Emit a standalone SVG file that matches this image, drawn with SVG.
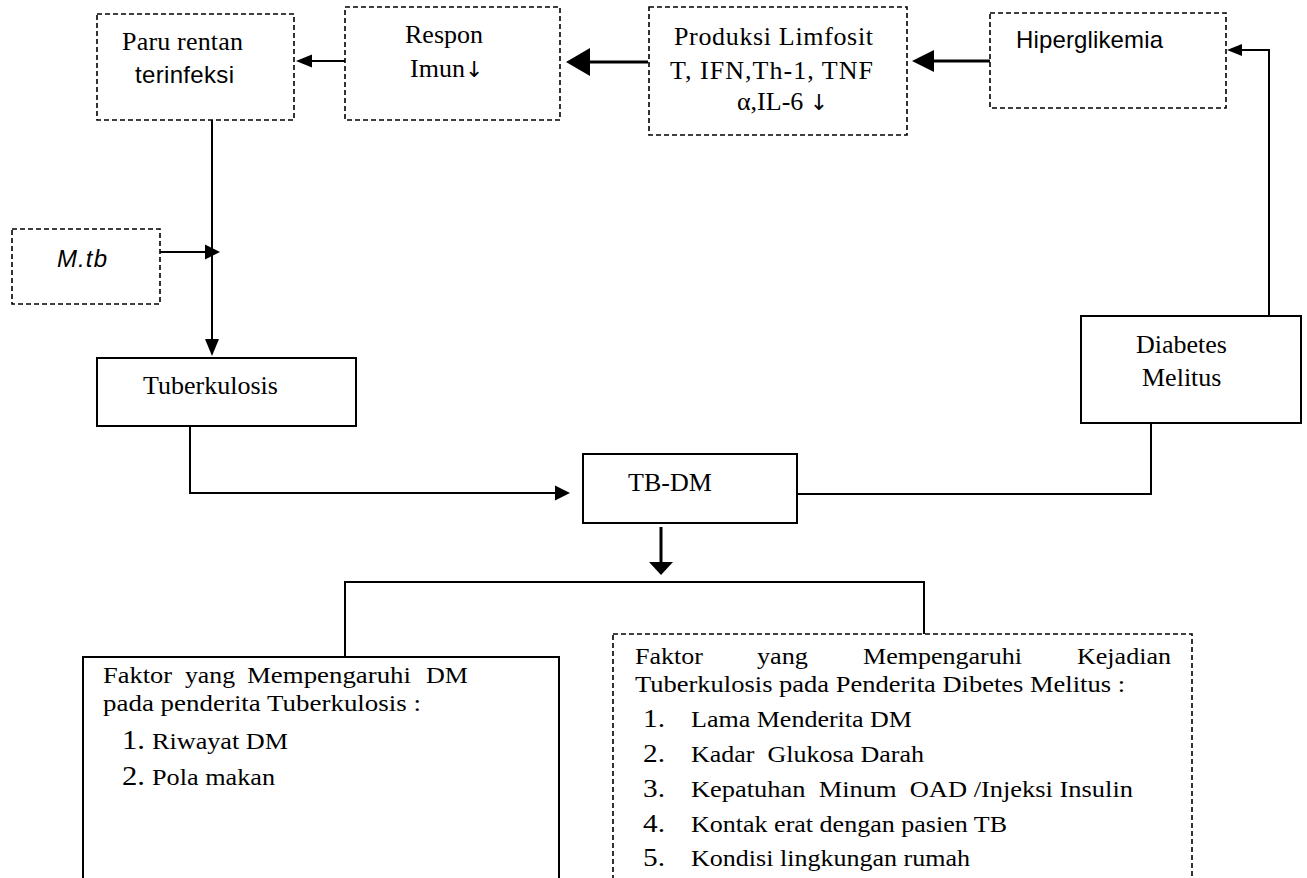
<svg xmlns="http://www.w3.org/2000/svg" width="1307" height="878" viewBox="0 0 1307 878">
<style>
.bg{fill:#fff}
.solid{fill:#fff;stroke:#000;stroke-width:2}
.dash{fill:#fff;stroke:#000;stroke-width:1.6;stroke-dasharray:5 3}
.ln{fill:none;stroke:#000;stroke-width:2}
.lnb{fill:none;stroke:#000;stroke-width:3}
.hd{fill:#000;stroke:none}
.t{font-family:"Liberation Serif","Times New Roman",serif;font-size:26px;fill:#000}
.s{font-family:"Liberation Sans",Arial,sans-serif;font-size:24px;fill:#000}
.l{font-family:"Liberation Serif","Times New Roman",serif;font-size:24px;fill:#000}
.r{font-family:"Liberation Serif","Times New Roman",serif;font-size:23px;fill:#000}
.nl{font-family:"Liberation Serif","Times New Roman",serif;font-size:27px;fill:#000}
.nr{font-family:"Liberation Serif","Times New Roman",serif;font-size:26px;fill:#000}
.ar{font-family:"DejaVu Sans",sans-serif;font-size:22px;fill:#000}
</style>
<rect class="bg" x="0" y="0" width="1307" height="878"/>

<g id="connectors">
  <line class="ln" x1="348" y1="61" x2="306" y2="61"/>
  <polygon class="hd" points="296,61 312,54.5 312,67.5"/>
  <line class="lnb" x1="648" y1="62" x2="580" y2="62"/>
  <polygon class="hd" points="566,62 590,48 590,76"/>
  <line class="lnb" x1="990" y1="61" x2="925" y2="61"/>
  <polygon class="hd" points="912,61 934,50 934,72"/>
  <polyline class="ln" points="1269,316 1269,50 1235,50"/>
  <polygon class="hd" points="1227,50 1242,44 1242,56"/>
  <line class="ln" x1="212" y1="120" x2="212" y2="342"/>
  <polygon class="hd" points="212,356 205,339 219,339"/>
  <line class="ln" x1="160" y1="252" x2="208" y2="252"/>
  <polygon class="hd" points="220,252 205,244.5 205,259.5"/>
  <polyline class="ln" points="190,426 190,493 560,493"/>
  <polygon class="hd" points="570,493 555,485.5 555,500.5"/>
  <polyline class="ln" points="1151,423 1151,494 774,494"/>
  <polygon class="hd" points="764,494 780,486 780,502"/>
  <line class="lnb" x1="661" y1="527" x2="661" y2="565"/>
  <polygon class="hd" points="661,575 649,562 673,562"/>
  <polyline class="ln" points="345,657 345,582 924,582 924,634"/>
</g>

<g id="paru">
  <rect class="dash" x="97" y="14" width="197" height="106"/>
  <text class="t" x="122" y="50" textLength="121">Paru rentan</text>
  <text class="s" x="135" y="83" textLength="99">terinfeksi</text>
</g>

<g id="respon">
  <rect class="dash" x="345" y="7" width="215" height="113"/>
  <text class="t" x="405" y="43">Respon</text>
  <text class="t" x="410" y="77">Imun<tspan class="ar">↓</tspan></text>
</g>

<g id="produksi">
  <rect class="dash" x="649" y="7" width="258" height="128"/>
  <text class="t" x="674" y="45" textLength="199">Produksi Limfosit</text>
  <text class="t" x="670" y="79" textLength="203">T, IFN,Th-1, TNF</text>
  <text class="t" x="737" y="110">α,IL-6 <tspan class="ar">↓</tspan></text>
</g>

<g id="hiperglikemia">
  <rect class="dash" x="990" y="13" width="236" height="95"/>
  <text class="s" x="1016" y="48" textLength="147">Hiperglikemia</text>
</g>

<g id="mtb">
  <rect class="dash" x="12" y="229" width="148" height="75"/>
  <text class="s" x="57" y="267" font-style="italic" textLength="50">M.tb</text>
</g>

<g id="tuberkulosis">
  <rect class="solid" x="97" y="358" width="259" height="68"/>
  <text class="t" x="143" y="394">Tuberkulosis</text>
</g>

<g id="diabetes">
  <rect class="solid" x="1081" y="316" width="220" height="107"/>
  <text class="t" x="1136" y="353">Diabetes</text>
  <text class="t" x="1142" y="386">Melitus</text>
</g>

<g id="tbdm">
  <rect class="solid" x="583" y="454" width="214" height="69"/>
  <text class="t" x="628" y="491">TB-DM</text>
</g>

<g id="faktor-dm">
  <rect class="solid" x="83" y="657" width="476" height="240"/>
  <text class="l" y="683" lengthAdjust="spacingAndGlyphs"><tspan x="103" textLength="69" lengthAdjust="spacingAndGlyphs">Faktor</tspan><tspan x="185" textLength="50" lengthAdjust="spacingAndGlyphs">yang</tspan><tspan x="247" textLength="164" lengthAdjust="spacingAndGlyphs">Mempengaruhi</tspan><tspan x="426" textLength="42" lengthAdjust="spacingAndGlyphs">DM</tspan></text>
  <text class="l" x="103" y="711" textLength="318" lengthAdjust="spacingAndGlyphs">pada penderita Tuberkulosis :</text>
  <text class="nl" x="122" y="749" textLength="23" lengthAdjust="spacingAndGlyphs">1.</text>
  <text class="l" x="152" y="749" textLength="136" lengthAdjust="spacingAndGlyphs">Riwayat DM</text>
  <text class="nl" x="122" y="785" textLength="23" lengthAdjust="spacingAndGlyphs">2.</text>
  <text class="l" x="152" y="785" textLength="123" lengthAdjust="spacingAndGlyphs">Pola makan</text>
</g>

<g id="faktor-tb">
  <rect class="dash" x="613" y="634" width="579" height="260"/>
  <text class="r" y="664"><tspan x="635" textLength="68" lengthAdjust="spacingAndGlyphs">Faktor</tspan><tspan x="757" textLength="51" lengthAdjust="spacingAndGlyphs">yang</tspan><tspan x="863" textLength="159" lengthAdjust="spacingAndGlyphs">Mempengaruhi</tspan><tspan x="1077" textLength="94" lengthAdjust="spacingAndGlyphs">Kejadian</tspan></text>
  <text class="r" x="635" y="692" textLength="490" lengthAdjust="spacingAndGlyphs">Tuberkulosis pada Penderita Dibetes Melitus :</text>
  <text class="nr" x="643" y="727" textLength="22" lengthAdjust="spacingAndGlyphs">1.</text>
  <text class="r" x="691" y="727" textLength="221" lengthAdjust="spacingAndGlyphs">Lama Menderita DM</text>
  <text class="nr" x="643" y="762" textLength="22" lengthAdjust="spacingAndGlyphs">2.</text>
  <text class="r" x="691" y="762" textLength="233" lengthAdjust="spacingAndGlyphs" xml:space="preserve">Kadar  Glukosa Darah</text>
  <text class="nr" x="643" y="797" textLength="22" lengthAdjust="spacingAndGlyphs">3.</text>
  <text class="r" x="691" y="797" textLength="442" lengthAdjust="spacingAndGlyphs" xml:space="preserve">Kepatuhan  Minum  OAD /Injeksi Insulin</text>
  <text class="nr" x="643" y="832" textLength="22" lengthAdjust="spacingAndGlyphs">4.</text>
  <text class="r" x="691" y="832" textLength="316" lengthAdjust="spacingAndGlyphs">Kontak erat dengan pasien TB</text>
  <text class="nr" x="643" y="866" textLength="22" lengthAdjust="spacingAndGlyphs">5.</text>
  <text class="r" x="691" y="866" textLength="279" lengthAdjust="spacingAndGlyphs">Kondisi lingkungan rumah</text>
</g>
</svg>
